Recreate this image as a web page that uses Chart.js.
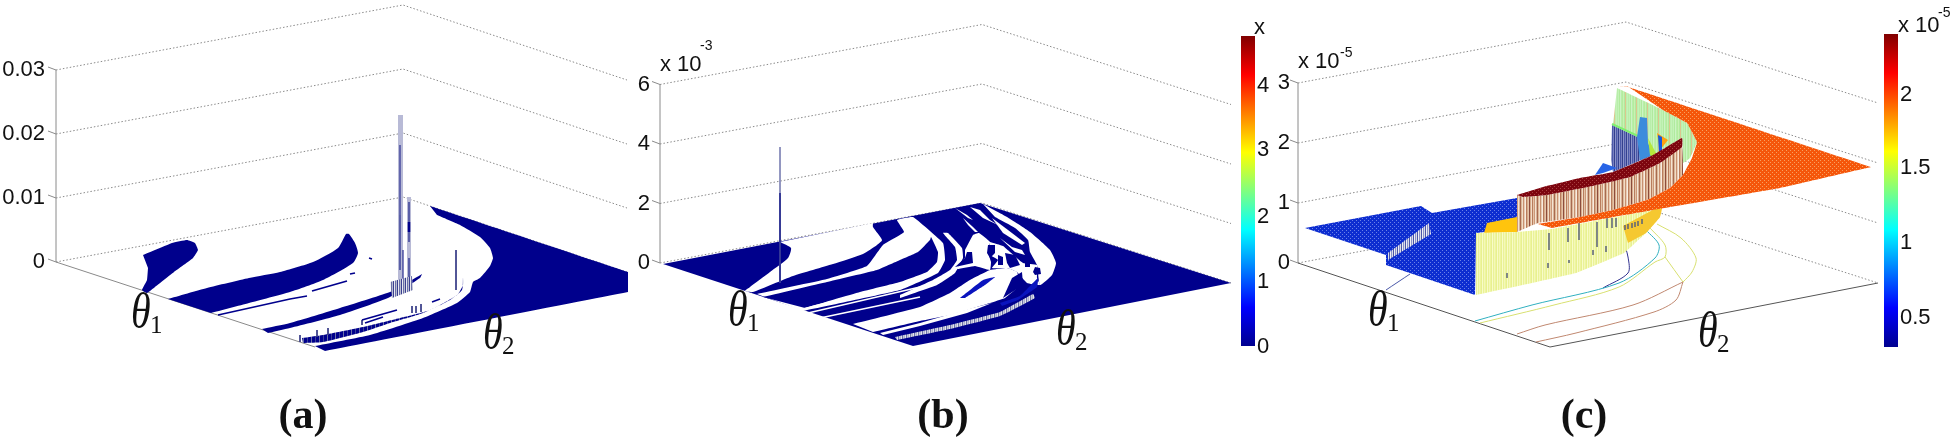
<!DOCTYPE html>
<html>
<head>
<meta charset="utf-8">
<title>theta surfaces</title>
<script src="https://cdn.jsdelivr.net/npm/chart.js@4"></script>
<style>
  html, body { margin: 0; padding: 0; background: #fff; overflow: hidden; }
  canvas { display: block; }
</style>
</head>
<body>
<canvas id="figura" width="1955" height="441"></canvas>
<script>
// tick labels
const zTicksA = ['0', '0.01', '0.02', '0.03'];
const zTicksB = ['0', '2', '4', '6'];
const zTicksC = ['0', '1', '2', '3'];
const barTicksB = ['0', '1', '2', '3', '4'];
const barTicksC = ['0.5', '1', '1.5', '2'];
const jetStops = ['#00008f', '#0000ff', '#00ffff', '#ffff00', '#ff0000', '#800000'];

// panel (a), outlines
const blobA1 = [[143,255],[143,255],[172,243],[187,240],[195,243],[198,250],[193,258],[174,272],[155,287],[147,293],[142,290],[147,280],[148,268]];
const blobA2 = [[168,299],[207,288],[249,278],[280,272],[313,262],[338,248],[346,234],[349,234],[355,243],[358,253],[353,263],[323,280],[290,292],[249,303],[211,313]];
const bandA3 = [[262,329],[290,323],[340,308],[390,292],[405,284],[422,274],[422,274],[420,278],[390,297],[340,315],[290,328],[268,333]];
const bandA4 = [[302,338],[323,335],[363,327],[400,318],[430,310],[457,295],[463,285],[463,277],[463,277],[462,290],[450,300],[423,313],[390,323],[363,332],[323,342],[303,343]];
const wedgeA = [[430,206],[430,206],[628,272],[628,272],[628,292],[628,292],[325,351],[325,351],[315,346],[315,346],[370,335],[423,318],[457,303],[470,292],[473,282],[480,278],[490,266],[493,258],[490,248],[480,237],[460,225],[437,215]];
const streaksA = [
  [[218,315],[290,299],[307,296]], [[312,291],[347,281]], [[350,274],[355,273]], [[369,258],[372,259]],
  [[362,320],[397,310]], [[365,323],[383,317]], [[432,302],[440,299]]
];
const spikesA = [[412,306,313],[416,306,313],[421,304,312],[300,335,342],[317,330,337],[328,328,335],[456,250,290],[362,320,325]];
const spikeMainA = [[398,115],[403,115],[403,284],[398,284]];
const spikeSideA = [[407,197],[411,197],[411,285],[407,285]];
const spikeDarkA = [[400,145,155],[400,155,220],[403,250,284]];
const spikeMidA = [[400,215,270],[409,202,222],[409,232,242],[409,258,278]];
const spikeNavyA = [[409,222,232]];
const fuzzA = [[390,282],[412,276],[413,290],[392,298]];

// panel (b), blue floor with white bands over it
const floorB = [[663,264],[980,203],[1231,283],[913,346]];
const whiteB1 = [[780,242],[791,248],[788,258],[770,272],[750,287],[745,291],[753,292],[793,276],[833,264],[863,254],[877,245],[882,240],[873,227],[873,223]];
const whiteB2 = [[757,294],[827,279],[867,266],[883,245],[904,232],[897,220],[913,217],[943,243],[945,260],[938,273],[900,290],[803,311]];
const bandB3 = [[763,297],[827,282],[877,270],[900,260],[918,252],[930,240],[931,237],[938,252],[937,262],[927,272],[900,282],[860,292],[805,308]];
const whiteB4 = [[900,295],[933,280],[950,270],[957,260],[955,247],[943,233],[948,233],[962,248],[963,258],[955,273],[937,285],[900,298]];
const patchB = [[965,250],[973,235],[979,233],[990,242],[988,252],[991,262],[990,270],[975,266],[957,269],[965,258]];
const rightPatchB = [[990,242],[1003,246],[1010,252],[1023,263],[1037,265],[1037,278],[1040,285],[1027,283],[1017,272],[1007,268],[992,268],[998,260],[990,255]];
const whiteB6 = [[853,324],[920,307],[950,293],[970,280],[990,270],[1007,268],[1017,272],[1020,285],[1005,298],[990,303],[950,315],[920,321],[873,332]];
const whiteB7 = [[983,204],[1007,217],[1030,232],[1050,250],[1056,263],[1052,275],[1040,285],[1037,265],[1030,252],[1028,240],[1015,228],[995,217]];
const whiteB8 = [[883,335],[920,326],[967,313],[992,303],[968,309],[920,323],[880,333]];
const fragmentsB = [
  [[963,218],[973,227],[978,232],[975,232],[968,225]],
  [[970,207],[980,210],[990,220],[998,225],[983,218]],
  [[955,208],[967,215],[973,220],[968,218]],
  [[992,218],[1008,230],[1025,243],[1022,245],[1003,233]],
  [[1000,238],[1012,247],[1022,250],[1025,255],[1015,252]]
];
const linesB = [[[803,309],[920,279]], [[808,313],[920,287]], [[820,318],[920,297]]];
const blueBlobsB = [
  [[955,267],[965,258],[967,252],[972,252],[973,263]],
  [[988,245],[995,245],[995,253],[990,258],[987,253]],
  [[998,255],[1003,257],[1003,265],[998,265]],
  [[1005,253],[1015,255],[1020,265],[1010,268],[1007,263]],
  [[1025,263],[1030,263],[1030,267],[1025,267]],
  [[1035,267],[1040,268],[1041,274],[1035,275],[1033,272]],
  [[1012,278],[1022,272],[1023,285],[1003,298]]
];
const brightB = [
  [[960,298],[983,280],[995,277],[985,285],[965,298]],
  [[1000,303],[1020,296],[1038,278],[1037,287],[1018,300],[1002,306]]
];
const hatchB = [[895,337],[950,325],[1000,312],[1033,294],[1035,298],[1000,316],[950,329],[897,340]];
const spikeB = [[780,147],[780,283]];
const spikeDarkB = [[780,193],[780,283]];

// panel (c)
const blueC = [[1305,228],[1421,206],[1432,213],[1517,198],[1517,232],[1485,232],[1476,233],[1475,295],[1386,265],[1386,255]];
const blueWallC = [[1388,253],[1429,223],[1431,234],[1388,260]];
const yellowWallC = [[1476,233],[1517,232],[1552,229],[1647,211],[1660,208],[1660,217],[1646,233],[1624,253],[1576,273],[1532,283],[1476,295]];
const goldC = [[1487,223],[1517,217],[1517,232],[1484,233]];
const goldEdgeC = [[1623,226],[1655,209],[1662,208],[1660,217],[1646,233],[1628,243]];
const greenWallC = [[1617,88],[1663,110],[1687,123],[1697,142],[1690,158],[1683,163],[1682,138],[1653,155],[1640,137],[1613,125]];
const limeEdgeC = [[1612,124],[1640,137]];
const slateC = [[1612,125],[1640,138],[1653,155],[1613,172],[1611,160]];
const midBlueC = [[1640,117],[1647,118],[1648,143],[1653,155],[1640,160],[1637,137]];
const limeC = [[1648,138],[1657,155],[1655,160],[1650,155]];
const orangeBitC = [[1657,133],[1668,140],[1660,150]];
const blueBitC = [[1658,135],[1662,137],[1662,152],[1659,152]];
const topBlueC = [[1595,175],[1603,163],[1617,168],[1603,173]];
const darkRedC = [[1517,195],[1543,187],[1580,178],[1613,172],[1653,155],[1682,138],[1682,147],[1660,163],[1630,177],[1597,185],[1547,195],[1523,197]];
const brownWallC = [[1517,195],[1523,197],[1547,195],[1597,185],[1630,177],[1660,163],[1682,147],[1683,175],[1670,188],[1647,200],[1613,210],[1580,217],[1538,223],[1517,232]];
const orangeC = [[1538,224],[1580,217],[1613,210],[1647,200],[1670,188],[1683,175],[1692,158],[1697,142],[1687,123],[1663,110],[1627,86],[1618,87],[1625,86],[1871,167],[1871,167],[1780,188],[1653,210],[1552,228]];
const darkStripesC = [[1549,233,250],[1568,228,242],[1579,223,240],[1597,222,247],[1607,218,228],[1612,218,228],[1616,218,227],[1548,263,268],[1569,260,263],[1593,250,255],[1606,246,252],[1507,273,278],[1625,225,230],[1628,224,229],[1632,223,228],[1635,222,227],[1638,221,226],[1642,219,224]];
const floorCurvesC = [
  { color: '#4a58a8', pts: [[1386,290],[1410,274]] },
  { color: '#30308f', pts: [[1623,240],[1628,257],[1628,273],[1603,288]] },
  { color: '#30b0c0', pts: [[1475,321],[1532,305],[1619,283],[1655,258],[1659,245],[1646,230]] },
  { color: '#d8e070', pts: [[1480,323],[1554,305],[1619,287],[1655,262],[1665,257],[1665,245],[1650,228]] },
  { color: '#d8e070', pts: [[1657,224],[1681,238],[1696,258],[1692,272],[1683,282]] },
  { color: '#d8e070', pts: [[1665,257],[1683,282]] },
  { color: '#c08870', pts: [[1517,334],[1545,325],[1633,305],[1683,282]] },
  { color: '#c08870', pts: [[1536,342],[1576,333],[1654,312],[1676,300],[1683,282]] }
];
const frontEdgeC = [[1298,263],[1550,347],[1878,283]];

// floor corners of each box
const boxA = { left: [56,262], back: [403,197], right: [627,272], front: [315,347], step: 64, ticks: zTicksA, tickX: 45 };
const boxB = { left: [660,263], back: [982,203], right: [1231,283], front: [908,345], step: 59.5, ticks: zTicksB, tickX: 650 };
const boxC = { left: [1298,263], back: [1626,202], right: [1878,283], front: [1550,347], step: 60, ticks: zTicksC, tickX: 1290 };

const NAVY = '#00008c';
const GRID = '#8a8a8a';

const canvas = document.getElementById('figura');

const stripes = (colors) => {
  const tile = document.createElement('canvas');
  tile.width = colors.length;
  tile.height = 2;
  const c = tile.getContext('2d');
  colors.forEach((color, i) => { c.fillStyle = color; c.fillRect(i, 0, 1, 2); });
  return c.createPattern(tile, 'repeat');
};

const dots = (base, dot) => {
  const tile = document.createElement('canvas');
  tile.width = 4;
  tile.height = 4;
  const c = tile.getContext('2d');
  c.fillStyle = base;
  c.fillRect(0, 0, 4, 4);
  c.fillStyle = dot;
  c.fillRect(0, 0, 1, 1);
  c.fillRect(2, 2, 1, 1);
  return c.createPattern(tile, 'repeat');
};

const toPoints = (list) => list.map(([x, y]) => ({ x, y }));

const datasets = [];
const shape = (list, color, tension = 0.2) => datasets.push({
  data: toPoints(list), showLine: true, fill: 'shape', backgroundColor: color,
  borderWidth: 0, pointRadius: 0, tension
});
const line = (list, color, width = 1, dash = [], tension = 0) => datasets.push({
  data: toPoints(list), showLine: true, fill: false, borderColor: color,
  borderWidth: width, borderDash: dash, pointRadius: 0, tension
});
const vertical = (list, color, width = 1) => list.forEach(([x, y0, y1]) => line([[x, y0], [x, y1]], color, width));

const drawBox = (box) => {
  box.ticks.forEach((_, i) => {
    const up = i * box.step;
    line([[box.left[0], box.left[1] - up], [box.back[0], box.back[1] - up], [box.right[0], box.right[1] - up]], GRID, 1, [1.5, 2]);
    line([[box.left[0] - 8, box.left[1] - up - 3], [box.left[0], box.left[1] - up]], GRID, 1);
  });
  line([[box.left[0], box.left[1]], [box.left[0], box.left[1] - (box.ticks.length - 1) * box.step]], GRID, 1);
};

// panel (a)
drawBox(boxA);
line([boxA.left, boxA.front], GRID, 1);
shape(blobA1, NAVY, 0.1);
shape(blobA2, NAVY);
shape(wedgeA, NAVY, 0.15);
shape(bandA3, NAVY);
shape(bandA4, stripes([NAVY, NAVY, NAVY, '#3a3f98', NAVY, NAVY, NAVY, '#6a70a8']));
shape(spikeMainA, '#b8bad6', 0);
shape(spikeSideA, '#b8bad6', 0);
vertical(spikeDarkA, '#2a2f90', 1.2);
vertical(spikeMidA, '#5a5fa8', 2);
vertical(spikeNavyA, NAVY, 2.5);
shape(fuzzA, stripes(['#b8bcd0', '#3a3f90', '#e8e8f0', '#6a70a8']), 0);
vertical(spikesA, '#3a3f88', 1);
streaksA.forEach((s) => line(s, NAVY, 1.6));

// panel (b)
drawBox(boxB);
shape(floorB, NAVY, 0);
shape(whiteB1, '#fff');
shape(whiteB2, '#fff', 0.1);
shape(bandB3, NAVY, 0.1);
shape(whiteB4, '#fff', 0.1);
shape(patchB, '#fff', 0.1);
shape(rightPatchB, '#fff', 0.1);
shape(whiteB6, '#fff', 0.1);
shape(whiteB7, '#fff', 0.15);
shape(whiteB8, '#fff', 0);
fragmentsB.forEach((f) => shape(f, '#fff', 0));
linesB.forEach((l) => line(l, '#fff', 1.6));
blueBlobsB.forEach((b) => shape(b, NAVY, 0));
brightB.forEach((b) => shape(b, '#0a14be', 0.1));
shape(hatchB, stripes(['#b0b4cc', '#e4e4ee', '#6c72a8', '#c8cade']), 0.1);
line(spikeB, '#8488b8', 1);
line(spikeDarkB, '#2a2f90', 1);

// panel (c)
drawBox(boxC);
line(frontEdgeC, '#555', 1);
floorCurvesC.forEach((f) => line(f.pts, f.color, 1, [], 0.3));
shape(blueC, dots('#0d2dd0', '#6a80e8'), 0);
shape(blueWallC, stripes(['#dcdee8', '#4a55a8', '#f0f0f4', '#8890c8']), 0);
shape(goldC, '#ffc40d', 0);
shape(yellowWallC, stripes(['#eef5a0', '#e8f090', '#f8fcc8', '#eaf298', '#f4f8b8']), 0.05);
shape(goldEdgeC, '#f5c830', 0.1);
vertical(darkStripesC, '#5a6278', 1.5);
shape(greenWallC, stripes(['#b8eeaa', '#c4f2b8', '#b0ea9e', '#cdf4c4', '#b8eeaa', '#b4ec9e', '#c8f2b4', '#b0ea9e', '#dcc68e', '#bcefae', '#c4f2b8']), 0.05);
shape(slateC, stripes(['#4a58a8', '#7880c0', '#34408e', '#8c94c8']), 0);
line(limeEdgeC, '#80f070', 2);
shape(midBlueC, '#3c8cdc', 0);
shape(limeC, '#b4e83c', 0);
shape(orangeBitC, '#ffa010', 0);
shape(blueBitC, '#1458e0', 0);
shape(topBlueC, '#2864e6', 0);
shape(brownWallC, stripes(['#d8ac8c', '#f0dcc8', '#b87c5c', '#e4c4a8', '#cc9878', '#f4e4d4', '#d8b498', '#a86a50', '#dcb898', '#f0dcc8', '#c89070', '#e8ccb4', '#f8ece0', '#b87c5c', '#d8ac8c', '#e4c4a8', '#8c4c3c']), 0.05);
shape(darkRedC, dots('#7d050f', '#a84040'), 0.1);
shape(orangeC, dots('#f5560a', '#f8a060'), 0.05);

// colour bars, the y scale runs 1:1 with the canvas height
const colourBar = (x0, x1, top, bottom) => {
  const g = canvas.getContext('2d').createLinearGradient(0, bottom, 0, top);
  jetStops.forEach((color, i) => g.addColorStop([0, 0.125, 0.375, 0.625, 0.875, 1][i], color));
  shape([[x0, top], [x1, top], [x1, bottom], [x0, bottom]], g, 0);
};
colourBar(1241, 1255, 36, 346);
colourBar(1884, 1898, 34, 347);

const textPlugin = {
  id: 'textos',
  afterDatasetsDraw(chart) {
    const { ctx } = chart;
    const sx = (v) => chart.scales.x.getPixelForValue(v);
    const sy = (v) => chart.scales.y.getPixelForValue(v);
    const put = (text, x, y, font, align = 'left', base = 'alphabetic', tall = 1) => {
      ctx.save();
      ctx.font = font;
      ctx.textAlign = align;
      ctx.textBaseline = base;
      ctx.fillStyle = '#111';
      ctx.translate(sx(x), sy(y));
      ctx.scale(1, tall);
      ctx.fillText(text, 0, 0);
      ctx.restore();
    };
    const SANS = '22px "Liberation Sans"';
    const SMALL = '14px "Liberation Sans"';
    const THETA = 'italic 40px "Liberation Serif"';
    const SUB = '25px "Liberation Serif"';
    const TITLE = 'bold 42px "Liberation Serif"';

    [boxA, boxB, boxC].forEach((box) => {
      box.ticks.forEach((t, i) => put(t, box.tickX, box.left[1] - i * box.step, SANS, 'right', 'middle'));
    });
    barTicksB.forEach((t, i) => put(t, 1257, [347, 282, 217, 150, 86][i], SANS, 'left', 'middle'));
    barTicksC.forEach((t, i) => put(t, 1900, [318, 243, 168, 95][i], SANS, 'left', 'middle'));

    put('x', 1254, 34, SANS);
    put('x 10', 660, 71, SANS);
    put('-3', 700, 50, SMALL);
    put('x 10', 1298, 68, SANS);
    put('-5', 1340, 57, SMALL);
    put('x 10', 1898, 32, SANS);
    put('-5', 1938, 17, SMALL);

    [[131, 328], [728, 326], [1368, 326]].forEach(([x, y]) => {
      put('\u03b8', x, y, THETA, 'left', 'alphabetic', 1.25);
      put('1', x + 19, y + 5, SUB);
    });
    [[483, 349], [1056, 345], [1698, 347]].forEach(([x, y]) => {
      put('\u03b8', x, y, THETA, 'left', 'alphabetic', 1.25);
      put('2', x + 19, y + 5, SUB);
    });

    put('(a)', 303, 428, TITLE, 'center');
    put('(b)', 943, 428, TITLE, 'center');
    put('(c)', 1584, 428, TITLE, 'center');
  }
};

new Chart(canvas, {
  type: 'scatter',
  data: { datasets: datasets.reverse() },
  options: {
    responsive: false,
    animation: false,
    events: [],
    layout: { padding: 0 },
    plugins: { legend: { display: false }, tooltip: { enabled: false } },
    scales: {
      x: { type: 'linear', display: false, min: 0, max: 1955 },
      y: { type: 'linear', display: false, min: 0, max: 441, reverse: true }
    }
  },
  plugins: [textPlugin]
});
</script>
</body>
</html>
